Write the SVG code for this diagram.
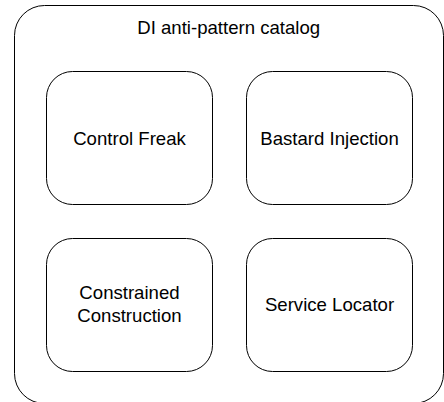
<svg xmlns="http://www.w3.org/2000/svg" width="444" height="402" viewBox="0 0 444 402">
<style>
.box{fill:#fff;stroke:#000;stroke-width:1}
.lbl{font-family:"Liberation Sans",Arial,sans-serif;font-size:18.6px;fill:#000;text-anchor:middle}
</style>
<rect width="444" height="402" fill="#fff"/>
<g id="catalog">
<rect class="box" x="14.5" y="5.5" width="429" height="398" rx="30" ry="30"/>
<text class="lbl" x="228.7" y="34">DI anti-pattern catalog</text>
</g>
<g id="control-freak">
<rect class="box" x="46.5" y="71.5" width="166" height="133" rx="26" ry="26"/>
<text class="lbl" x="129.5" y="145">Control Freak</text>
</g>
<g id="bastard-injection">
<rect class="box" x="246.5" y="71.5" width="166" height="133" rx="26" ry="26"/>
<text class="lbl" x="329.5" y="145">Bastard Injection</text>
</g>
<g id="constrained-construction">
<rect class="box" x="46.5" y="238.5" width="166" height="133" rx="26" ry="26"/>
<text class="lbl" x="129.5" y="299">Constrained</text>
<text class="lbl" x="129.5" y="322">Construction</text>
</g>
<g id="service-locator">
<rect class="box" x="246.5" y="238.5" width="166" height="133" rx="26" ry="26"/>
<text class="lbl" x="329.5" y="311">Service Locator</text>
</g>
<g id="connectors"></g>
</svg>
